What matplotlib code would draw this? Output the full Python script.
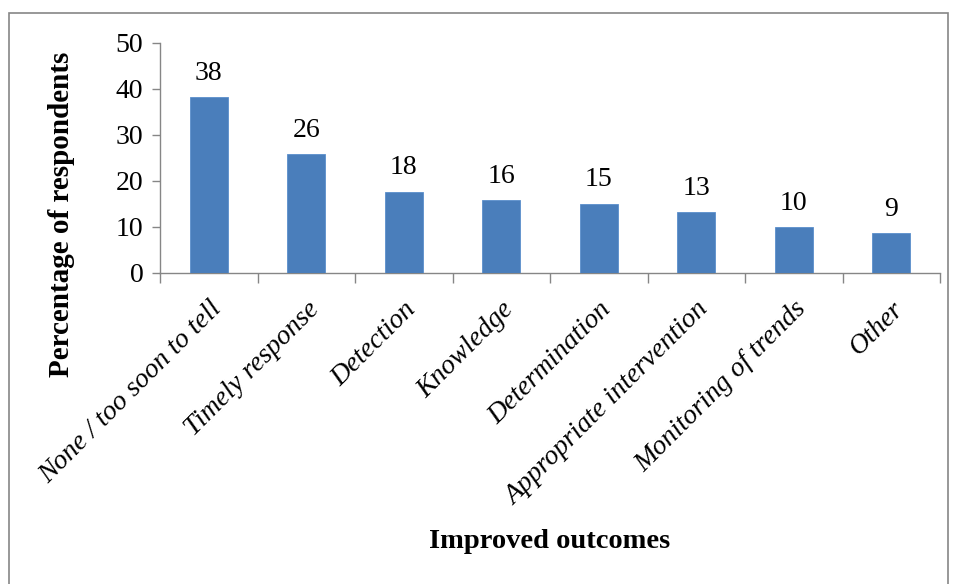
import matplotlib
matplotlib.use("Agg")
import matplotlib.pyplot as plt
from matplotlib.patches import Rectangle

categories = ["None / too soon to tell", "Timely response", "Detection", "Knowledge",
              "Determination", "Appropriate intervention", "Monitoring of trends", "Other"]
values = [38.2, 25.8, 17.7, 15.8, 15.1, 13.3, 9.9, 8.6]
labels = ["38", "26", "18", "16", "15", "13", "10", "9"]
yticks = [0, 10, 20, 30, 40, 50]

plt.rcParams['font.family'] = ['Liberation Serif', 'DejaVu Serif']

W, H = 956, 584
fig = plt.figure(figsize=(W / 100, H / 100), dpi=100)
fig.patch.set_facecolor('white')

# axes box in pixels: left 160, right 940, top 43, bottom 273
ax = fig.add_axes([160 / W, 1 - 273 / H, (940 - 160) / W, (273 - 43) / H])

x = list(range(len(categories)))
ax.bar(x, values, width=0.39, color='#4A7EBB', edgecolor='#5B8FCC', linewidth=0.6, zorder=3)
for xi, v, lab in zip(x, values, labels):
    ax.annotate(lab, (xi, v), xytext=(0, 8), textcoords='offset points',
                ha='center', va='bottom', fontsize=20, color='black')

ax.set_xlim(-0.5, len(categories) - 0.5)
ax.set_ylim(0, 50)
ax.set_yticks(yticks)
ax.set_yticklabels([str(t) for t in yticks], fontsize=20)

ax.set_xticks([i - 0.5 for i in range(len(categories) + 1)])
ax.set_xticklabels([])
ax.set_xticks(x, minor=True)
ax.set_xticklabels(categories, minor=True, rotation=45, ha='right', va='top',
                   rotation_mode='anchor', fontsize=20, style='italic')
ax.tick_params(axis='x', which='minor', length=0, pad=17)
ax.tick_params(axis='x', which='major', length=7, width=1, color='#868686', direction='out')
ax.tick_params(axis='y', length=6, width=1, color='#868686', direction='out', pad=6)

for s in ['top', 'right']:
    ax.spines[s].set_visible(False)
for s in ['left', 'bottom']:
    ax.spines[s].set_color('#868686')
    ax.spines[s].set_linewidth(1)

fig.text(62 / W, 1 - 214 / H, "Percentage of respondents", rotation=90,
         ha='center', va='center', fontsize=21, fontweight='bold')
fig.text(550 / W, 1 - 542 / H, "Improved outcomes", ha='center', va='center',
         fontsize=20.5, fontweight='bold')

fig.patches.append(Rectangle((9 / W, -0.01), (948 - 9) / W, 1 - 13 / H + 0.01,
                             transform=fig.transFigure, fill=False,
                             edgecolor='#868686', linewidth=1.2))

fig.savefig("out.png", dpi=100)
